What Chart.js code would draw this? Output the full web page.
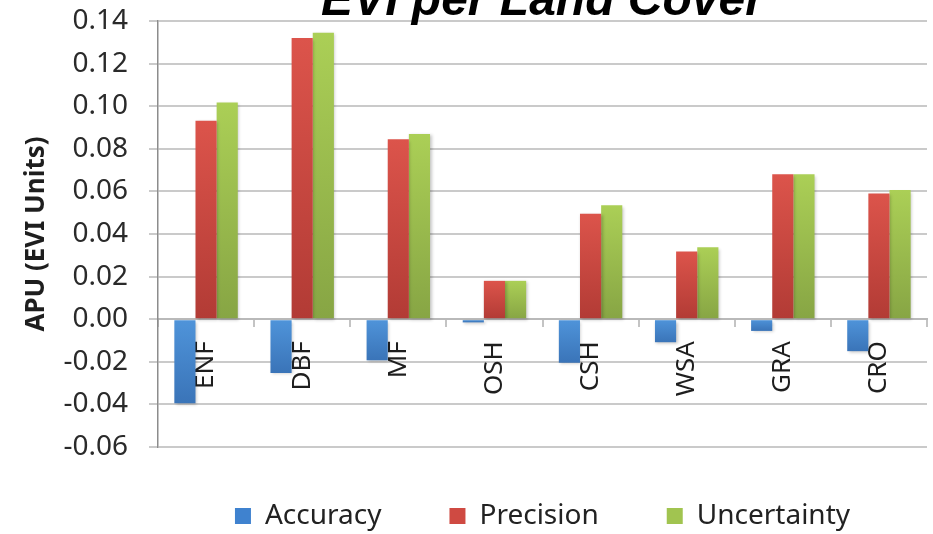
<!DOCTYPE html>
<html>
<head>
<meta charset="utf-8">
<script src="https://cdn.jsdelivr.net/npm/chart.js@4"></script>
<style>
  html, body { margin: 0; padding: 0; background: #fff; }
  #wrap { width: 933px; height: 534px; }
</style>
</head>
<body>
<div id="wrap"><canvas id="apu"></canvas></div>
<script>
// land cover classes (MODIS IGBP short names)
const landCovers = ['ENF', 'DBF', 'MF', 'OSH', 'CSH', 'WSA', 'GRA', 'CRO'];

// APU values in EVI units
const accuracy = [-0.0395, -0.0252, -0.0193, -0.0015, -0.0205, -0.0108, -0.0055, -0.0150];
const precision = [0.0932, 0.1320, 0.0845, 0.0180, 0.0495, 0.0318, 0.0680, 0.0590];
const uncertainty = [0.1017, 0.1345, 0.0870, 0.0180, 0.0535, 0.0338, 0.0680, 0.0606];

const yTicks = { min: -0.06, max: 0.14, step: 0.02 };

const fontFamily = "'Noto Sans', 'Open Sans', sans-serif";

// light -> dark shading for each bar, from the zero line outwards
function barShade(light, dark) {
  return function (ctx) {
    const chart = ctx.chart;
    if (!chart.chartArea || ctx.type !== 'data') return light;
    const y = chart.scales.y;
    const v = ctx.raw;
    const y0 = y.getPixelForValue(Math.max(v, 0));
    const y1 = y.getPixelForValue(Math.min(v, 0));
    if (!isFinite(y0) || !isFinite(y1) || y1 - y0 < 1) return light;
    const g = chart.ctx.createLinearGradient(0, y0, 0, y1);
    g.addColorStop(0, light);
    g.addColorStop(1, dark);
    return g;
  };
}

const seriesStyle = [
  { label: 'Accuracy', data: accuracy, light: '#4f94da', dark: '#3a74b8', swatch: '#3f82cf' },
  { label: 'Precision', data: precision, light: '#dc544b', dark: '#b23b35', swatch: '#cf4a42' },
  { label: 'Uncertainty', data: uncertainty, light: '#abcf56', dark: '#87a544', swatch: '#a1c450' }
];

// soft drop shadow under the bars
const barShadow = {
  id: 'barShadow',
  beforeDatasetsDraw(chart) {
    const c = chart.ctx;
    c.save();
    c.shadowColor = 'rgba(0,0,0,0.22)';
    c.shadowBlur = 3;
    c.shadowOffsetX = 1.5;
    c.shadowOffsetY = 1.5;
  },
  afterDatasetsDraw(chart) {
    chart.ctx.restore();
  }
};

// wide item spacing makes the legend box tall, pull it back up a bit
const legendNudge = {
  id: 'legendNudge',
  afterLayout(chart, args, opts) {
    const lg = chart.legend;
    if (!lg) return;
    lg.top += opts.dy;
    lg.bottom += opts.dy;
  }
};

new Chart(document.getElementById('apu'), {
  type: 'bar',
  data: {
    labels: landCovers,
    datasets: seriesStyle.map(s => ({
      label: s.label,
      data: s.data,
      backgroundColor: barShade(s.light, s.dark),
      borderWidth: 0,
      categoryPercentage: 0.66,
      barPercentage: 1.0
    }))
  },
  options: {
    responsive: true,
    maintainAspectRatio: false,
    animation: false,
    devicePixelRatio: 1,
    layout: { padding: { left: 0, right: 6, top: 0, bottom: -19 } },
    plugins: {
      title: {
        display: true,
        text: 'EVI per Land Cover',
        fullSize: false,
        color: '#000',
        font: { family: "'Liberation Sans', Arial, sans-serif", size: 48, weight: 'bold', style: 'italic' },
        // title sits partly above the top edge
        padding: { top: -26.8, bottom: -9.8 }
      },
      legend: {
        position: 'bottom',
        fullSize: false,
        labels: {
          color: '#222',
          font: { family: fontFamily, size: 28 },
          boxWidth: 16,
          boxHeight: 16,
          padding: 68,
          generateLabels(chart) {
            const items = Chart.defaults.plugins.legend.labels.generateLabels(chart);
            items.forEach(it => {
              it.fillStyle = seriesStyle[it.datasetIndex].swatch;
              it.strokeStyle = seriesStyle[it.datasetIndex].swatch;
              it.lineWidth = 0;
            });
            return items;
          }
        }
      },
      legendNudge: { dy: -13 },
      tooltip: { enabled: false }
    },
    scales: {
      x: {
        position: { y: 0 },
        afterFit(scale) { scale.height = 0; },
        border: { display: true, color: '#b9b9b9', width: 2 },
        grid: { drawOnChartArea: false, drawTicks: true, tickLength: 7, color: '#c4c4c4', lineWidth: 2 },
        ticks: {
          autoSkip: false,
          minRotation: 90,
          maxRotation: 90,
          padding: 15,
          color: '#1e1e1e',
          font: { family: fontFamily, size: 26 }
        }
      },
      y: {
        min: yTicks.min,
        max: yTicks.max,
        afterFit(scale) {
          scale.width = 158;
          // top label may overlap the title band
          scale.paddingTop = 0;
        },
        border: { display: true, color: '#8c8c8c', width: 1.5 },
        grid: { color: '#cacaca', lineWidth: 2, tickLength: 9 },
        ticks: {
          stepSize: yTicks.step,
          padding: 21,
          color: '#2a2a2a',
          font: { family: fontFamily, size: 28 },
          callback: v => (Math.abs(v) < 1e-9 ? 0 : v).toFixed(2)
        },
        title: {
          display: true,
          text: 'APU (EVI Units)',
          color: '#1e1e1e',
          font: { family: fontFamily, size: 26, weight: 'bold' },
          padding: { top: 21, bottom: 0 }
        }
      }
    }
  },
  plugins: [barShadow, legendNudge]
});
</script>
</body>
</html>
